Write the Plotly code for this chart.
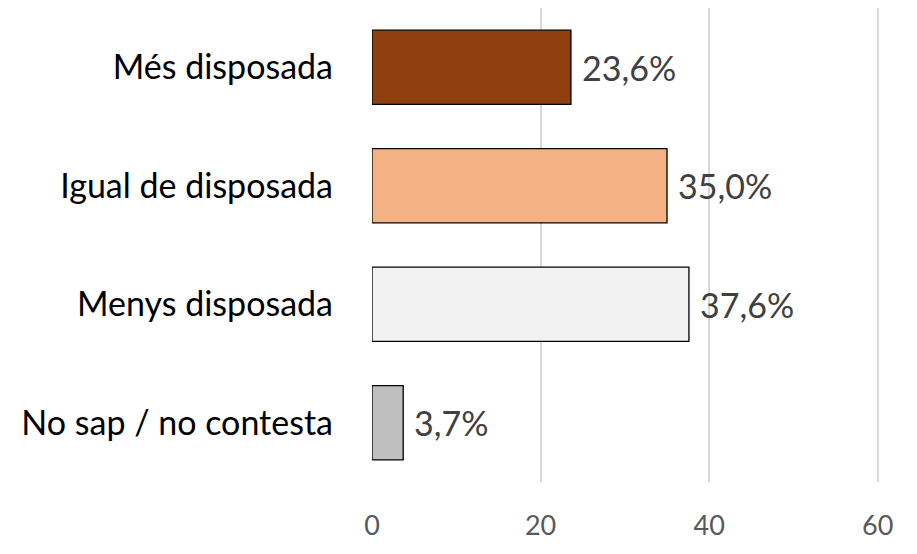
import plotly.graph_objects as go

categories = ["Més disposada", "Igual de disposada", "Menys disposada", "No sap / no contesta"]
values = [23.6, 35.0, 37.6, 3.7]
colors = ["#8F400E", "#F4B183", "#F2F2F2", "#BFBFBF"]
x_ticks = [0, 20, 40, 60]

fig = go.Figure(
    data=[
        go.Bar(
            x=values,
            y=categories,
            orientation="h",
            width=0.625,
            marker=dict(color=colors, line=dict(color="#000000", width=1.3)),
            hoverinfo="skip",
        )
    ]
)

# value labels placed just right of each bar
for cat, val in zip(categories, values):
    fig.add_annotation(
        x=val, y=cat,
        text=f"{val:.1f}%".replace(".", ","),
        showarrow=False,
        xanchor="left",
        xshift=9,
        font=dict(size=34, color="#404040"),
    )

# page body has an 8px margin, so the figure is a bit smaller than the window
fig.update_layout(
    width=909, height=538,
    margin=dict(l=364, r=38, t=0, b=64),
    plot_bgcolor="white",
    paper_bgcolor="white",
    font=dict(family="Lato, Open Sans, sans-serif"),
    showlegend=False,
    bargap=0.375,
    xaxis=dict(
        range=[0, 60.15],
        tickvals=x_ticks,
        showgrid=True,
        gridcolor="#D9D9D9",
        gridwidth=1.5,
        zeroline=False,
        showline=False,
        ticks="",
        automargin=False,
        tickfont=dict(size=27, color="#595959"),
        ticklabelstandoff=25,
    ),
    yaxis=dict(
        categoryorder="array",
        categoryarray=categories[::-1],
        showgrid=False,
        zeroline=False,
        showline=False,
        ticks="",
        automargin=False,
        tickfont=dict(size=34, color="#000000"),
        ticklabelstandoff=38,
    ),
)

fig.write_html("out.html")
